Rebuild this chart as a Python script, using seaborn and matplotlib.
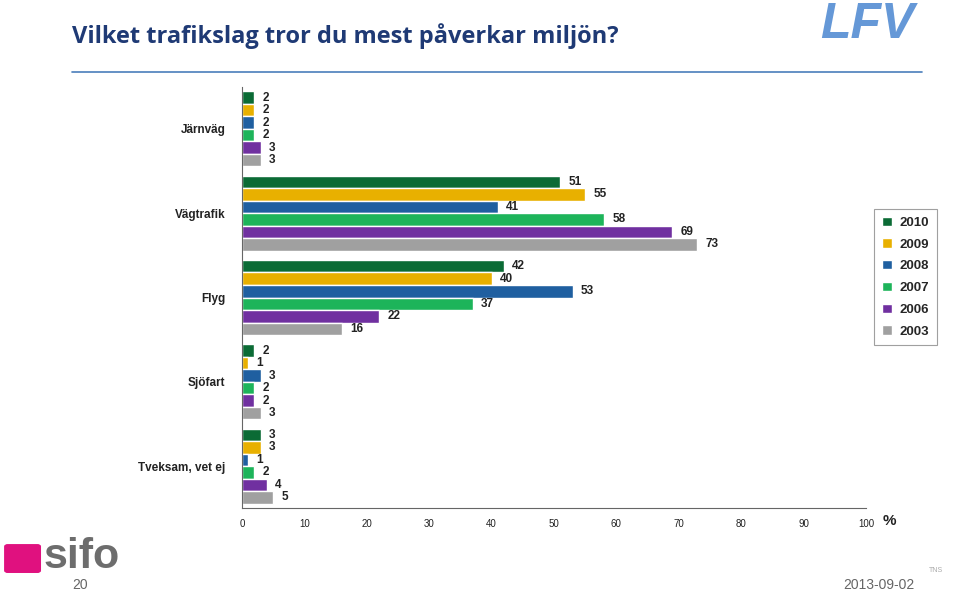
import matplotlib
matplotlib.use("Agg")
import matplotlib.pyplot as plt
import seaborn as sns
import pandas as pd
from matplotlib.patches import FancyBboxPatch

categories = ["Järnväg", "Vägtrafik", "Flyg", "Sjöfart", "Tveksam, vet ej"]
years = ["2010", "2009", "2008", "2007", "2006", "2003"]
values = {
    "2010": [2, 51, 42, 2, 3],
    "2009": [2, 55, 40, 1, 3],
    "2008": [2, 41, 53, 3, 1],
    "2007": [2, 58, 37, 2, 2],
    "2006": [3, 69, 22, 2, 4],
    "2003": [3, 73, 16, 3, 5],
}
colors = ["#0B6B35", "#E8B000", "#1F5FA0", "#1DB45A", "#7030A0", "#A0A0A0"]
x_ticks = list(range(0, 101, 10))

rows = []
for y in years:
    for c, v in zip(categories, values[y]):
        rows.append({"Kategori": c, "År": y, "Andel": v})
df = pd.DataFrame(rows)

sns.set_theme(style="white")
plt.rcParams["font.family"] = ["Liberation Sans", "DejaVu Sans"]

fig = plt.figure(figsize=(9.6, 5.98), dpi=100)
ax = fig.add_axes([0.252, 0.150, 0.650, 0.705])

sns.barplot(data=df, y="Kategori", x="Andel", hue="År", order=categories,
            hue_order=years, palette=colors, orient="h", width=0.89,
            ax=ax, legend=True, saturation=1)

for cont in ax.containers:
    ax.bar_label(cont, padding=6, fontsize=8.5, fontweight="bold", color="#222222")

ax.set_xlim(0, 100)
ax.set_ylim(len(categories) - 0.5, -0.5)
ax.set_xticks(x_ticks)
ax.set_xticklabels([str(t) for t in x_ticks], fontsize=7, color="#222222")
ax.tick_params(axis="x", direction="in", length=3, color="#666666", pad=8)
ax.set_yticks(range(len(categories)))
ax.set_yticklabels(categories, fontsize=8.5, fontweight="bold", color="#222222")
ax.tick_params(axis="y", which="major", length=0, pad=12)
ax.set_yticks([i - 0.5 for i in range(len(categories) + 1)], minor=True)
ax.tick_params(axis="y", which="minor", length=4, color="#666666", direction="out")
ax.set_xlabel("")
ax.set_ylabel("")
for s in ["top", "right"]:
    ax.spines[s].set_visible(False)
for s in ["left", "bottom"]:
    ax.spines[s].set_color("#666666")
    ax.spines[s].set_linewidth(0.8)

ax.text(1.027, -0.03, "%", transform=ax.transAxes, fontsize=11,
        fontweight="bold", color="#222222", va="center", ha="left")

handles, labels = ax.get_legend_handles_labels()
ax.legend_.remove()
leg = fig.legend(handles, labels, loc="upper left", bbox_to_anchor=(0.904, 0.662),
                 frameon=True, handlelength=0.7, handleheight=0.7,
                 labelspacing=0.72, borderpad=0.6, handletextpad=0.6,
                 prop={"weight": "bold", "size": 9.5}, fancybox=False)
leg.get_frame().set_edgecolor("#888888")
leg.get_frame().set_linewidth(0.8)

# Title & decorations
fig.text(0.075, 0.94, "Vilket trafikslag tror du mest påverkar miljön?",
         fontsize=17, fontweight="bold", color="#1F3A75", family=["Open Sans", "DejaVu Sans"],
         va="center", ha="left")
fig.add_artist(plt.Line2D([0.075, 0.96], [0.879, 0.879], color="#4A7EBB", linewidth=1.2))
fig.text(0.903, 0.958, "LFV", fontsize=36, fontweight="bold", color="#4A86D0",
         style="italic", va="center", ha="center", alpha=0.85)

# sifo logo
fig.add_artist(FancyBboxPatch((0.008, 0.046), 0.031, 0.04, boxstyle="round,pad=0.003",
                              transform=fig.transFigure, color="#E0117F"))
fig.text(0.045, 0.068, "sifo", fontsize=31, fontweight="bold", color="#6D6D6D",
         va="center", ha="left")
fig.text(0.083, 0.01, "20", fontsize=10, color="#666666", va="bottom", ha="center")
fig.text(0.953, 0.01, "2013-09-02", fontsize=10, color="#666666", va="bottom", ha="right")
fig.text(0.975, 0.046, "TNS", fontsize=5, color="#AAAAAA", va="center", ha="center")

fig.savefig("out.png", dpi=100)
